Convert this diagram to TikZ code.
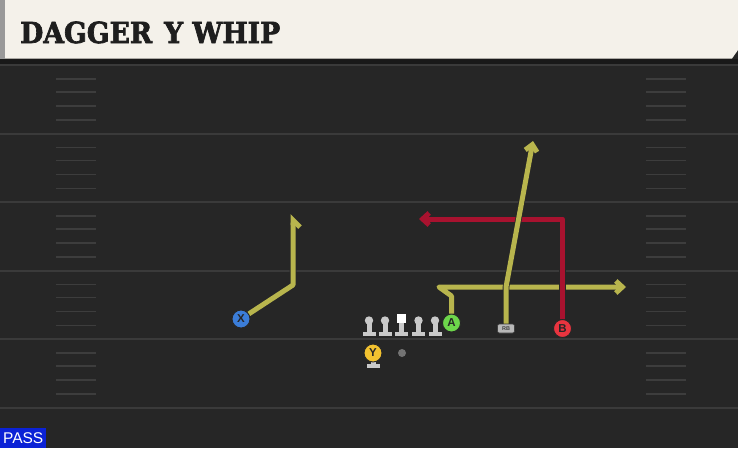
\documentclass[tikz,border=0pt]{standalone}
\usepackage{fontspec}
\setmainfont{Liberation Sans}
\newfontfamily\titlefont{DejaVu Serif}[BoldFeatures={FakeBold=2.5}]
\usetikzlibrary{arrows.meta}

\definecolor{turf}{HTML}{262626}
\definecolor{yardline}{HTML}{3A3A3A}
\definecolor{hashmark}{HTML}{3D3D3D}
\definecolor{cream}{HTML}{F4F1EA}
\definecolor{titleink}{HTML}{1E1E1E}
\definecolor{routeyel}{HTML}{B8B54D}
\definecolor{routered}{HTML}{A8122F}
\definecolor{xblue}{HTML}{3B7DD8}
\definecolor{ygold}{HTML}{F2C230}
\definecolor{agreen}{HTML}{6DD64B}
\definecolor{bred}{HTML}{E8343F}
\definecolor{olgray}{HTML}{C9C9C9}
\definecolor{passblue}{HTML}{0B22D6}

\begin{document}
\begin{tikzpicture}[x=10pt,y=10pt]
\tikzstyle{every node}+=[inner sep=0pt]
\tikzstyle{player}=[circle, minimum size=18pt, draw=black!85, line width=0.9pt, text=black!85, font=\bfseries\fontsize{11.5}{11.5}\selectfont]
\tikzstyle{route}=[line width=5pt, line join=round, preaction={draw=black!85, line width=6.6pt}]
\tikzstyle{tip}=[-{Straight Barb[length=6.5pt,width=12pt]}]
\useasboundingbox (0,0) rectangle (73.8,-44.8);
% field
\fill [turf] (0,0) rectangle (73.8,-44.8);
\draw [yardline, line width=2pt] (0,-6.5) -- (73.8,-6.5);
\draw [yardline, line width=2pt] (0,-13.35) -- (73.8,-13.35);
\draw [yardline, line width=2pt] (0,-20.2) -- (73.8,-20.2);
\draw [yardline, line width=2pt] (0,-27.05) -- (73.8,-27.05);
\draw [yardline, line width=2pt] (0,-33.9) -- (73.8,-33.9);
\draw [yardline, line width=2pt] (0,-40.75) -- (73.8,-40.75);
\foreach \y in {6.5,13.35,20.2,27.05,33.9}
  \foreach \d in {1.4,2.7,4.1,5.5} {
    \draw [hashmark, line width=1.5pt] (5.6,-\y-\d) -- (9.6,-\y-\d);
    \draw [hashmark, line width=1.5pt] (64.6,-\y-\d) -- (68.6,-\y-\d);
  }
% header
\fill [black!90] (0,-5.85) rectangle (73.8,-6.4);
\fill [cream] (0.5,0) -- (73.8,0) -- (73.8,-5) -- (73.2,-5.85) -- (0.5,-5.85) -- cycle;
\fill [black!40] (0,0) rectangle (0.5,-5.85);
\node [anchor=base west, text=titleink, font=\titlefont\bfseries\fontsize{29}{29}\selectfont] (title) at (2.0,-4.3) {\scalebox{0.92}[1]{DAGGER\hspace{0.45em}Y WHIP}};
% pass tag
\node [anchor=south west, fill=passblue, text=white, minimum width=46pt, minimum height=20pt, font=\fontsize{15.5}{15.5}\selectfont] (pass) at (0,-44.8) {PASS};
% line
\foreach \x in {36.9,38.5,41.85,43.5} {
  \fill [olgray] (\x,-32.05) circle (0.42);
  \fill [olgray] (\x-0.25,-32.1) rectangle (\x+0.25,-33.2);
  \fill [olgray] (\x-0.65,-33.15) rectangle (\x+0.65,-33.6);
}
\fill [white] (39.65,-31.4) rectangle (40.55,-32.25);
\fill [olgray] (39.85,-32.25) rectangle (40.35,-33.2);
\fill [olgray] (39.45,-33.15) rectangle (40.75,-33.6);
% backfield
\fill [olgray] (37.05,-35.8) rectangle (37.55,-36.4);
\fill [olgray] (36.65,-36.35) rectangle (38.0,-36.75);
\node [player, fill=ygold] (Y) at (37.3,-35.3) {Y};
\node [circle, fill=black!55, minimum size=8pt] (QB) at (40.2,-35.3) {};
\node [player, fill=xblue] (X) at (24.1,-31.9) {X};
\node [player, fill=agreen] (A) at (45.15,-32.3) {A};
\node [player, fill=bred] (B) at (56.25,-32.85) {B};
\node [rectangle, rounded corners=2pt, fill=black!28, draw=black!75, line width=0.6pt, minimum width=17pt, minimum height=9pt, text=black!75, font=\bfseries\fontsize{5.5}{5.5}\selectfont] (RB) at (50.6,-32.85) {RB};
% routes
\coordinate (xbreak) at (29.3,-28.5);
\coordinate (xend) at (29.3,-21.4);
\coordinate (abreak) at (45.15,-29.6);
\coordinate (aturn) at (43.9,-28.7);
\coordinate (aend) at (62.6,-28.7);
\coordinate (rbbreak) at (50.6,-28.7);
\coordinate (rbend) at (53.3,-14.1);
\coordinate (bbreak) at (56.25,-21.9);
\coordinate (bend) at (41.9,-21.9);
\draw [route, routeyel, -{Straight Barb[right,length=7pt,width=14pt]}] (X) -- (xbreak) -- (xend);
\draw [route, routeyel, tip] (A) -- (abreak) -- (aturn) -- (aend);
\draw [route, routered, tip] (B) -- (bbreak) -- (bend);
\draw [route, routeyel, tip] (RB) -- (rbbreak) -- (rbend);
\end{tikzpicture}
\end{document}
